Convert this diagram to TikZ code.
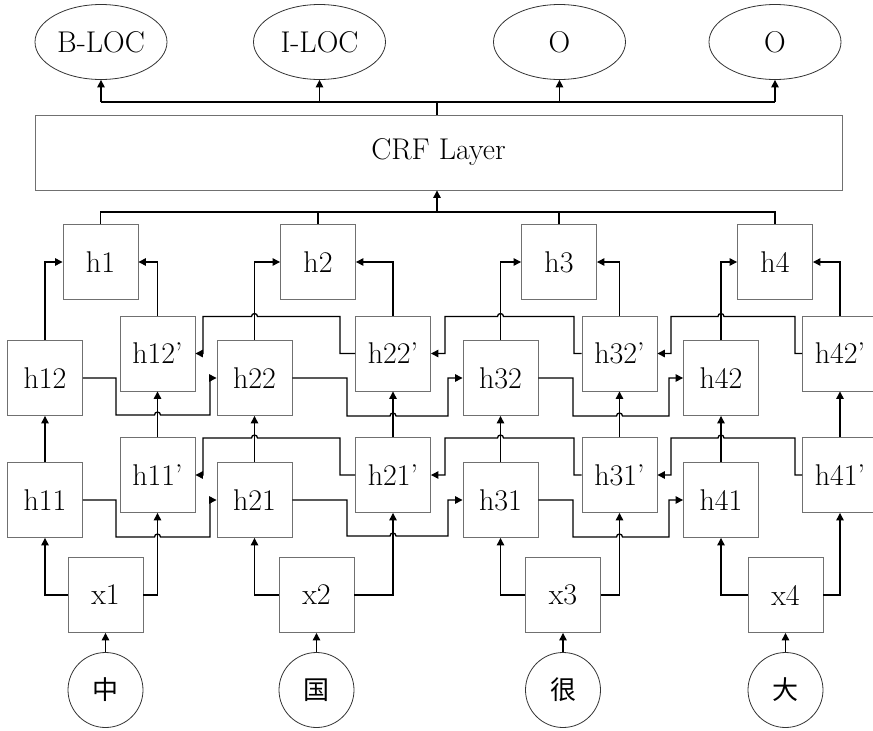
\documentclass[tikz,border=0pt]{standalone}
\usepackage{fontspec}
\newfontfamily\cjk{Noto Sans CJK SC}
\usetikzlibrary{arrows.meta,shapes.geometric}
\definecolor{boxgray}{HTML}{707070}
\begin{document}
\begin{tikzpicture}[x=1pt,y=-1pt,
  lab/.style={font=\fontsize{30}{34}\selectfont},
  cell/.style={draw=boxgray,line width=0.9pt,minimum width=75pt,minimum height=75pt,inner sep=0pt,lab},
  tag/.style={ellipse,draw=black!80,line width=0.8pt,minimum width=132pt,minimum height=75pt,inner sep=0pt,lab},
  char/.style={circle,draw=black!80,line width=0.8pt,minimum size=75pt,inner sep=0pt,font=\fontsize{26}{30}\selectfont\cjk},
  conn/.style={draw=black,line width=1.3pt},
  arr/.style={conn,-{Triangle[length=7.5pt,width=7.5pt]}},
]
\useasboundingbox (0,0) rectangle (873,731);
\clip (0,0) rectangle (873,731);

% output tags
\node[tag] (t1) at (101,42) {B-LOC};
\node[tag] (t2) at (319.5,42) {I-LOC};
\node[tag] (t3) at (559.5,42) {O};
\node[tag] (t4) at (775,42) {O};
\node[cell,minimum width=807pt] (crf) at (438.5,152.5) {CRF Layer};

% merged outputs
\node[cell] (h1) at (100.5,262) {h1};
\node[cell] (h2) at (318,262) {h2};
\node[cell] (h3) at (559,262) {h3};
\node[cell] (h4) at (775,262) {h4};

% layer 2
\node[cell] (h12) at (45,378) {h12};
\node[cell] (h22) at (254.5,378) {h22};
\node[cell] (h32) at (500.5,378) {h32};
\node[cell] (h42) at (721,378) {h42};
\node[cell] (h12b) at (157.5,353.5) {h12’};
\node[cell] (h22b) at (393,353.5) {h22’};
\node[cell] (h32b) at (619.5,353.5) {h32’};
\node[cell] (h42b) at (840,353.5) {h42’};

% layer 1
\node[cell] (h11) at (45,500) {h11};
\node[cell] (h21) at (254.5,500) {h21};
\node[cell] (h31) at (500.5,500) {h31};
\node[cell] (h41) at (721,500) {h41};
\node[cell] (h11b) at (157.5,475) {h11’};
\node[cell] (h21b) at (393,475) {h21’};
\node[cell] (h31b) at (619.5,475) {h31’};
\node[cell] (h41b) at (840,475) {h41’};

% inputs
\node[cell] (x1) at (105.5,595) {x1};
\node[cell] (x2) at (316.5,595) {x2};
\node[cell] (x3) at (563,595) {x3};
\node[cell] (x4) at (785.5,595) {x4};
\node[char] (c1) at (105.5,690) {中};
\node[char] (c2) at (316.5,690) {国};
\node[char] (c3) at (563,690) {很};
\node[char] (c4) at (785.5,690) {大};

% CRF to tags
\coordinate (tb) at (437,102);
\draw[conn] (tb|-crf.north) -- (tb);
\draw[conn] (t1.south|-tb) -- (t4.south|-tb);
\foreach \t in {t1,t2,t3,t4} \draw[arr] (\t.south|-tb) -- (\t.south);

% h to CRF
\coordinate (bb) at (437,212);
\draw[conn] (h1.north) -- (h1.north|-bb) -- (h4.north|-bb) -- (h4.north);
\draw[conn] (h2.north) -- (h2.north|-bb);
\draw[conn] (h3.north) -- (h3.north|-bb);
\draw[arr] (bb) -- (bb|-crf.south);

% layer 2 to h
\draw[arr] (h12.north) |- (h1.west);
\draw[arr] (h12b.north) |- (h1.east);
\draw[arr] (h22.north) |- (h2.west);
\draw[arr] (h22b.north) |- (h2.east);
\draw[arr] (h32.north) |- (h3.west);
\draw[arr] (h32b.north) |- (h3.east);
\draw[arr] (h42.north) |- (h4.west);
\draw[arr] (h42b.north) |- (h4.east);

% layer 1 to layer 2
\foreach \k in {1,2,3,4}{
  \draw[arr] (h\k1.north) -- (h\k2.south);
  \draw[arr] (h\k1b.north) -- (h\k2b.south);
}

% inputs
\draw[arr] (x1.west) -| (h11.south);
\draw[arr] (x1.east) -| (h11b.south);
\draw[arr] (x2.west) -| (h21.south);
\draw[arr] (x2.east) -| (h21b.south);
\draw[arr] (x3.west) -| (h31.south);
\draw[arr] (x3.east) -| (h31b.south);
\draw[arr] (x4.west) -| (h41.south);
\draw[arr] (x4.east) -| (h41b.south);
\draw[arr] (c1.north) -- (x1.south);
\draw[arr] (c2.north) -- (x2.south);
\draw[arr] (c3.north) -- (x3.south);
\draw[arr] (c4.north) -- (x4.south);

% forward recurrences
\draw[arr] (h11.east) -| (116,537) -- (154.5,537) arc[start angle=180,end angle=0,radius=3pt] -- (210,537) |- (h21.west);
\draw[arr] (h12.east) -| (116,415) -- (154.5,415) arc[start angle=180,end angle=0,radius=3pt] -- (210,415) |- (h22.west);
\draw[arr] (h21.east) -| (347,536) -- (390,536) arc[start angle=180,end angle=0,radius=3pt] -- (448,536) |- (h31.west);
\draw[arr] (h22.east) -| (347,416) -- (390,416) arc[start angle=180,end angle=0,radius=3pt] -- (448,416) |- (h32.west);
\draw[arr] (h31.east) -| (573,537) -- (616.5,537) arc[start angle=180,end angle=0,radius=3pt] -- (669,537) |- (h41.west);
\draw[arr] (h32.east) -| (573,416) -- (616.5,416) arc[start angle=180,end angle=0,radius=3pt] -- (669,416) |- (h42.west);

% backward recurrences
\draw[arr] (h21b.west) -| (340,438) -- (257.5,438) arc[start angle=0,end angle=180,radius=3pt] -- (203,438) |- (h11b.east);
\draw[arr] (h22b.west) -| (340,316.5) -- (257.5,316.5) arc[start angle=0,end angle=180,radius=3pt] -- (203,316.5) |- (h12b.east);
\draw[arr] (h31b.west) -| (574,438) -- (503.5,438) arc[start angle=0,end angle=180,radius=3pt] -- (445,438) |- (h21b.east);
\draw[arr] (h32b.west) -| (574,316.5) -- (503.5,316.5) arc[start angle=0,end angle=180,radius=3pt] -- (445,316.5) |- (h22b.east);
\draw[arr] (h41b.west) -| (795,438) -- (724,438) arc[start angle=0,end angle=180,radius=3pt] -- (671,438) |- (h31b.east);
\draw[arr] (h42b.west) -| (795,316.5) -- (724,316.5) arc[start angle=0,end angle=180,radius=3pt] -- (671,316.5) |- (h32b.east);
\end{tikzpicture}
\end{document}
